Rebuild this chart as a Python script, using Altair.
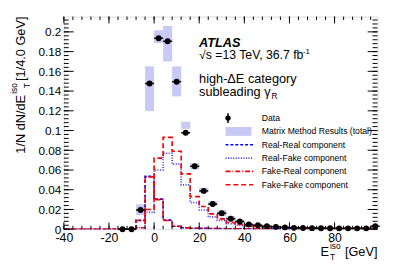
import altair as alt
import pandas as pd

FONT = "Liberation Sans"

# ---------------- data ----------------
data_x = [-14, -10, -6, -2, 2, 6, 10, 14, 18, 22, 26, 30, 34, 38, 42, 46, 50, 54, 58,
          62, 66, 70, 74, 78, 82, 86, 90, 94, 98]
data_y = [0.0, 0.0, 0.0195, 0.1477, 0.1935, 0.1905, 0.1495, 0.0977, 0.0638, 0.0388,
          0.0255, 0.0162, 0.0106, 0.0079, 0.0048, 0.0040, 0.0031, 0.0024, 0.0019,
          0.0014, 0.0012, 0.0011, 0.0010, 0.0010, 0.0009, 0.0009, 0.0009, 0.0009, 0.0030]

mm_x = [-6, -2, 2, 6, 10, 14, 18, 22, 26, 30, 34, 38, 42, 46]
mm_lo = [0.0144, 0.1196, 0.1887, 0.1700, 0.1346, 0.1017, 0.0605, 0.0370, 0.0235,
         0.0135, 0.0085, 0.0060, 0.0030, 0.0025]
mm_hi = [0.0253, 0.1650, 0.2016, 0.2060, 0.1650, 0.1090, 0.0670, 0.0420, 0.0285,
         0.0195, 0.0135, 0.0095, 0.0060, 0.0050]

bin_lo = [-40, -36, -32, -28, -24, -20, -16, -12, -8, -4, 0, 4, 8, 12, 16, 20, 24, 28,
          32, 36, 40, 44, 48, 52, 56, 60, 64, 68, 72, 76, 80, 84, 88, 92, 96]
BIN_W = 4

real_real = [0, 0, 0, 0, 0, 0, 0, 0, 0.0090, 0.0535, 0.0305, 0.0092, 0.0030, 0.0015,
             0.0010, 0.0008, 0.0007, 0.0006, 0.0005, 0.0005, 0.0004, 0.0004, 0.0004,
             0.0003, 0.0003, 0.0003, 0.0003, 0.0002, 0.0002, 0.0002, 0.0002, 0.0002,
             0.0002, 0.0002, 0.0002]
real_fake = [0, 0, 0, 0, 0, 0, 0, 0, 0.0015, 0.0170, 0.0600, 0.0770, 0.0660, 0.0450,
             0.0270, 0.0195, 0.0125, 0.0090, 0.0056, 0.0040, 0.0030, 0.0025, 0.0020,
             0.0018, 0.0015, 0.0013, 0.0012, 0.0011, 0.0010, 0.0010, 0.0009, 0.0009,
             0.0008, 0.0008, 0.0008]
fake_real = [0, 0, 0, 0, 0, 0, 0, 0, 0.0090, 0.0530, 0.0300, 0.0088, 0.0028, 0.0014,
             0.0010, 0.0008, 0.0006, 0.0005, 0.0005, 0.0004, 0.0004, 0.0003, 0.0003,
             0.0003, 0.0003, 0.0002, 0.0002, 0.0002, 0.0002, 0.0002, 0.0002, 0.0002,
             0.0002, 0.0002, 0.0002]
fake_fake = [0, 0, 0, 0, 0, 0, 0, 0, 0.0015, 0.0200, 0.0720, 0.0930, 0.0790, 0.0560,
             0.0330, 0.0230, 0.0155, 0.0105, 0.0068, 0.0048, 0.0036, 0.0030, 0.0025,
             0.0021, 0.0018, 0.0016, 0.0014, 0.0013, 0.0012, 0.0011, 0.0010, 0.0010,
             0.0009, 0.0009, 0.0009]

x_major = [-40, -20, 0, 20, 40, 60, 80]
x_minor = [-40, -36, -32, -28, -24, -20, -16, -12, -8, -4, 0, 4, 8, 12, 16, 20, 24, 28,
           32, 36, 40, 44, 48, 52, 56, 60, 64, 68, 72, 76, 80, 84, 88, 92, 96]
y_major = [0, 0.02, 0.04, 0.06, 0.08, 0.1, 0.12, 0.14, 0.16, 0.18, 0.2]
y_minor = [round(i * 0.004, 3) for i in range(54)]

components = ["Real-Real component", "Real-Fake component",
              "Fake-Real component", "Fake-Fake component"]
comp_vals = [real_real, real_fake, fake_real, fake_fake]
comp_color = ["#0000ff", "#3333ff", "#ff0000", "#ff0000"]
comp_dash = [[3, 2], [1, 1.6], [5, 2, 1, 2], [5, 3]]

# ---------------- layout ----------------
W, H = 320, 217
XMIN, XMAX = -40, 99
YMAX = 0.2155
xs = alt.Scale(domain=[XMIN, XMAX], nice=False, zero=False)
ys = alt.Scale(domain=[0, YMAX], nice=False, zero=False)

XAX = alt.Axis(values=x_major, ticks=False, domain=False, grid=False,
               labelExpr="'' + datum.value", labelFont=FONT, labelFontSize=12.5,
               labelColor="black", labelPadding=3, title=None, labelFlush=False)
YAX = alt.Axis(values=y_major, ticks=False, domain=False, grid=False, format="~g",
               labelFont=FONT, labelFontSize=12, labelColor="black", labelPadding=3,
               title=None, labelFlush=False)

def X(field):
    return alt.X(field, scale=xs, axis=XAX)

def Y(field):
    return alt.Y(field, scale=ys, axis=YAX)

LAV = "#c9c9f6"

# ---------------- layers ----------------
mm_df = pd.DataFrame({"x": [v - BIN_W / 2 for v in mm_x],
                      "x2": [v + BIN_W / 2 for v in mm_x],
                      "y": mm_lo, "y2": mm_hi})
boxes = alt.Chart(mm_df).mark_rect(color=LAV, opacity=1).encode(
    x=X("x:Q"), x2="x2:Q", y=Y("y:Q"), y2="y2:Q")

line_layers = []
for name, vals, col, dash in zip(components, comp_vals, comp_color, comp_dash):
    xs_pts, ys_pts, order = [], [], []
    k = 0
    for lo, v in zip(bin_lo, vals):
        xs_pts += [lo, lo + BIN_W]
        ys_pts += [v, v]
        order += [k, k + 1]
        k += 2
    df = pd.DataFrame({"x": xs_pts, "y": ys_pts, "o": order})
    line_layers.append(
        alt.Chart(df).mark_line(color=col, strokeDash=dash, strokeWidth=1.7,
                                clip=True).encode(
            x=X("x:Q"), y=Y("y:Q"), order="o:Q"))

d_df = pd.DataFrame({"x": data_x, "y": data_y,
                     "xl": [v - BIN_W / 2 for v in data_x],
                     "xh": [v + BIN_W / 2 for v in data_x]})
data_bars = alt.Chart(d_df).mark_rule(color="black", strokeWidth=1.5).encode(
    x=X("xl:Q"), x2="xh:Q", y=Y("y:Q"))
data_pts = alt.Chart(d_df).mark_point(filled=True, color="black", size=36,
                                      opacity=1).encode(x=X("x:Q"), y=Y("y:Q"))

# inward ticks (ROOT style)
def yticks(vals, length):
    df = pd.DataFrame({"y": vals})
    left = alt.Chart(df).mark_rule(color="black", strokeWidth=1).encode(
        y=Y("y:Q"), x=alt.value(0), x2=alt.value(length))
    right = alt.Chart(df).mark_rule(color="black", strokeWidth=1).encode(
        y=Y("y:Q"), x=alt.value(W), x2=alt.value(W - length))
    return [left, right]

def xticks(vals, length):
    df = pd.DataFrame({"x": vals})
    bottom = alt.Chart(df).mark_rule(color="black", strokeWidth=1).encode(
        x=X("x:Q"), y=alt.value(H), y2=alt.value(H - length))
    top = alt.Chart(df).mark_rule(color="black", strokeWidth=1).encode(
        x=X("x:Q"), y=alt.value(0), y2=alt.value(length))
    return [bottom, top]

tick_layers = yticks(y_major, 10) + yticks(y_minor, 5) + xticks(x_major, 7) + xticks(x_minor, 3.5)

def txt(text, x, y, size, align="left", baseline="alphabetic", **kw):
    return alt.Chart(pd.DataFrame({"t": [text]})).mark_text(
        x=x, y=y, fontSize=size, font=FONT, align=align, baseline=baseline,
        color="black", **kw).encode(text="t:N")

texts = [
    txt("ATLAS", 138, 31.5, 13, fontWeight="bold", fontStyle="italic"),
    txt("\u221as =13 TeV, 36.7 fb", 138, 43.5, 12.5),
    txt("-1", 244, 38, 8),
    txt("high-\u0394E category", 138, 68, 13),
    txt("subleading \u03b3", 138, 81, 13),
    txt("R", 212, 84, 8.5),
    # x title
    txt("E", 262, 244.5, 13),
    txt("iso", 271.5, 237, 8.5),
    txt("T", 271.5, 248, 8.5),
    txt("[GeV]", W, 244.5, 13, align="right"),
    # y title (rotated)
    txt("[1/4.0 GeV]", -44, 0, 13, align="right", baseline="middle", angle=270),
    txt("iso", -51, 68, 8.5, align="right", baseline="middle", angle=270),
    txt("T", -38, 68, 8.5, align="right", baseline="middle", angle=270),
    txt("1/N dN/dE", -44, 80, 13, align="right", baseline="middle", angle=270),
]

# legend
LEG_X0, LEG_X1, LEG_TX = 165, 193, 202
LEG_Y0, LEG_DY = 103.6, 13.6
leg_labels = ["Data", "Matrix Method Results (total)"] + components
leg_layers = [txt(lab, LEG_TX, LEG_Y0 + i * LEG_DY, 8.8, baseline="middle")
              for i, lab in enumerate(leg_labels)]
one = pd.DataFrame({"a": [0]})
leg_layers.append(alt.Chart(one).mark_point(
    filled=True, color="black", size=30, opacity=1).encode(
    x=alt.value(167.5), y=alt.value(LEG_Y0)))
leg_layers.append(alt.Chart(one).mark_rule(color="black", strokeWidth=1.5).encode(
    x=alt.value(167.5), y=alt.value(LEG_Y0 - 5), y2=alt.value(LEG_Y0 + 5)))
leg_layers.append(alt.Chart(one).mark_rect(color=LAV, opacity=1).encode(
    x=alt.value(LEG_X0), x2=alt.value(LEG_X1 - 1.5),
    y=alt.value(LEG_Y0 + LEG_DY - 4.5), y2=alt.value(LEG_Y0 + LEG_DY + 4.5)))
for i, (col, dash) in enumerate(zip(comp_color, comp_dash)):
    yy = LEG_Y0 + (i + 2) * LEG_DY
    leg_layers.append(alt.Chart(one).mark_rule(
        color=col, strokeDash=dash, strokeWidth=1.7).encode(
        x=alt.value(LEG_X0), x2=alt.value(LEG_X1), y=alt.value(yy)))

chart = alt.layer(boxes, *line_layers, data_bars, data_pts, *tick_layers,
                  *texts, *leg_layers).properties(
    width=W, height=H,
    autosize=alt.AutoSizeParams(type="none"),
    padding={"left": 57, "top": 6, "right": 22, "bottom": 45},
).configure_view(stroke="black", strokeWidth=1).configure(background="white")

chart.save("out.html", embed_options={"renderer": "svg", "actions": False})
